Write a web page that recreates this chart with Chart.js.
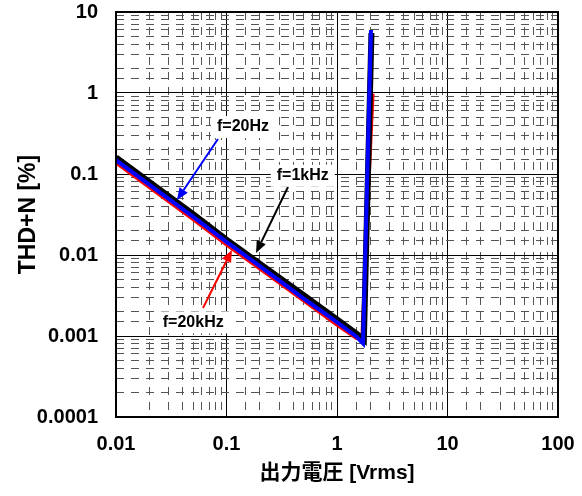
<!DOCTYPE html>
<html>
<head>
<meta charset="utf-8">
<script src="https://cdn.jsdelivr.net/npm/chart.js@4.4.1/dist/chart.umd.min.js"></script>
<style>
    html, body { margin: 0; padding: 0; background: #fff; }
    canvas { display: block; }
</style>
</head>
<body>
<canvas id="thd-chart" width="582" height="496"></canvas>
<script>
// Output voltage [Vrms] and THD+N [%], one pair of arrays per frequency
const volts1k = [0.01, 0.02, 0.05, 0.1, 0.2, 0.5, 1, 1.5, 1.75, 2.05];
const thd1k = [0.16, 0.08, 0.032, 0.0155, 0.0078, 0.0032, 0.0016, 0.00107, 0.0009, 5.5];

const volts20 = [0.01, 0.02, 0.05, 0.1, 0.2, 0.5, 1, 1.5, 1.72, 2.03];
const thd20 = [0.148, 0.074, 0.0296, 0.0145, 0.0073, 0.0029, 0.00148, 0.00098, 0.00081, 6.0];

const volts20k = [0.01, 0.02, 0.05, 0.1, 0.2, 0.5, 1, 1.5, 1.68, 2.12];
const thd20k = [0.136, 0.068, 0.0272, 0.0133, 0.0067, 0.0027, 0.00136, 0.00093, 0.00099, 0.98];

// Decade tick labels
const xTickLabels = ["0.01", "0.1", "1", "10", "100"];
const yTickLabels = ["0.0001", "0.001", "0.01", "0.1", "1", "10"];

// Callout labels: text, label position, arrow start and arrow tip (data coords)
const callouts = [
    { text: "f=20Hz", color: "#0000ff", at: [0.141, 0.38], from: [0.0837, 0.27], to: [0.0356, 0.0478] },
    { text: "f=1kHz", color: "#000000", at: [0.49, 0.095], from: [0.36, 0.069], to: [0.185, 0.0106] },
    { text: "f=20kHz", color: "#ff0000", at: [0.05, 0.00147], from: [0.0613, 0.00222], to: [0.112, 0.01153] },
];

const FONT = "'Liberation Sans', Arial, 'Noto Sans CJK JP', sans-serif";

function toPoints(xs, ys) {
    return xs.map((x, i) => ({ x: x, y: ys[i] }));
}

function isDecade(v) {
    const e = Math.log10(v);
    return Math.abs(e - Math.round(e)) < 1e-6;
}

// solid black on decades, grey dashes in between
function gridColor(ctx) {
    return ctx.tick && isDecade(ctx.tick.value) ? "#000000" : "#555555";
}
function gridDash(ctx) {
    return ctx.tick && isDecade(ctx.tick.value) ? [] : [8, 7];
}

// fixed box sizes, no extra room for the end labels
function fixX(scale) {
    scale.height = 79;
    scale.paddingLeft = 0;
    scale.paddingRight = 0;
}
function fixY(scale) {
    scale.width = 116;
    scale.paddingTop = 0;
    scale.paddingBottom = 0;
}

// draws the frame round the plot and the callouts
const calloutPlugin = {
    id: "callouts",
    afterDatasetsDraw(chart) {
        const ctx = chart.ctx;
        const xs = chart.scales.x;
        const ys = chart.scales.y;
        const area = chart.chartArea;

        ctx.save();
        ctx.strokeStyle = "#000";
        ctx.lineWidth = 2;
        ctx.strokeRect(area.left, area.top, area.right - area.left, area.bottom - area.top);

        callouts.forEach((c) => {
            const x0 = xs.getPixelForValue(c.from[0]);
            const y0 = ys.getPixelForValue(c.from[1]);
            const x1 = xs.getPixelForValue(c.to[0]);
            const y1 = ys.getPixelForValue(c.to[1]);
            const ang = Math.atan2(y1 - y0, x1 - x0);
            const head = 12;
            const half = 5;

            // arrow shaft
            ctx.strokeStyle = c.color;
            ctx.fillStyle = c.color;
            ctx.lineWidth = 2;
            ctx.beginPath();
            ctx.moveTo(x0, y0);
            ctx.lineTo(x1 - head * Math.cos(ang), y1 - head * Math.sin(ang));
            ctx.stroke();

            // arrow head
            ctx.beginPath();
            ctx.moveTo(x1, y1);
            ctx.lineTo(x1 - head * Math.cos(ang) + half * Math.sin(ang), y1 - head * Math.sin(ang) - half * Math.cos(ang));
            ctx.lineTo(x1 - head * Math.cos(ang) - half * Math.sin(ang), y1 - head * Math.sin(ang) + half * Math.cos(ang));
            ctx.closePath();
            ctx.fill();

            // label on a white box
            const tx = xs.getPixelForValue(c.at[0]);
            const ty = ys.getPixelForValue(c.at[1]);
            ctx.font = "bold 16px " + FONT;
            const w = ctx.measureText(c.text).width;
            ctx.fillStyle = "#fff";
            ctx.fillRect(tx - w / 2 - 6, ty - 11, w + 12, 22);
            ctx.fillStyle = "#000";
            ctx.textAlign = "center";
            ctx.textBaseline = "middle";
            ctx.fillText(c.text, tx, ty);
        });
        ctx.restore();
    },
};

const chartCanvas = document.getElementById("thd-chart");

new Chart(chartCanvas, {
    type: "line",
    data: {
        datasets: [
            {
                label: "f=20Hz",
                data: toPoints(volts20, thd20),
                borderColor: "#0000ff",
                borderWidth: 4,
            },
            {
                label: "f=1kHz",
                data: toPoints(volts1k, thd1k),
                borderColor: "#000000",
                borderWidth: 6,
            },
            {
                label: "f=20kHz",
                data: toPoints(volts20k, thd20k),
                borderColor: "#ff0000",
                borderWidth: 3,
            },
        ],
    },
    options: {
        responsive: false,
        animation: false,
        layout: { padding: { top: 12, right: 24, left: 0, bottom: 0 } },
        elements: {
            point: { radius: 0 },
            line: { tension: 0, fill: false },
        },
        plugins: {
            legend: { display: false },
            tooltip: { enabled: false },
        },
        scales: {
            x: {
                type: "logarithmic",
                min: 0.01,
                max: 100,
                afterFit: fixX,
                grid: { color: gridColor, lineWidth: 1, drawTicks: false },
                border: { display: false, dash: gridDash },
                ticks: {
                    autoSkip: false,
                    maxRotation: 0,
                    padding: 15,
                    color: "#000",
                    font: { family: FONT, size: 20, weight: "bold" },
                    callback: (v) => isDecade(v) ? xTickLabels[Math.round(Math.log10(v)) + 2] : "",
                },
                title: {
                    display: true,
                    text: "出力電圧 [Vrms]",
                    color: "#000",
                    font: { family: FONT, size: 21, weight: "bold" },
                    padding: { top: 0, bottom: 10 },
                },
            },
            y: {
                type: "logarithmic",
                min: 0.0001,
                max: 10,
                afterFit: fixY,
                grid: { color: gridColor, lineWidth: 1, drawTicks: false },
                border: { display: false, dash: gridDash },
                ticks: {
                    autoSkip: false,
                    padding: 18,
                    color: "#000",
                    font: { family: FONT, size: 20, weight: "bold" },
                    callback: (v) => isDecade(v) ? yTickLabels[Math.round(Math.log10(v)) + 4] : "",
                },
                title: {
                    display: true,
                    text: "THD+N [%]",
                    color: "#000",
                    font: { family: FONT, size: 23, weight: "bold" },
                    padding: { top: 15, bottom: 0 },
                },
            },
        },
    },
    plugins: [calloutPlugin],
});
</script>
</body>
</html>
